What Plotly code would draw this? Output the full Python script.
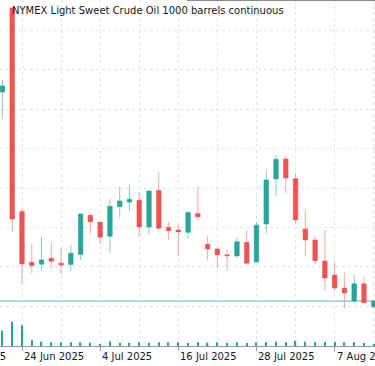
import datetime as dt
import plotly.graph_objects as go

dates = ["2025-06-20", "2025-06-23", "2025-06-24", "2025-06-25", "2025-06-26", "2025-06-27",
         "2025-06-30", "2025-07-01", "2025-07-02", "2025-07-03", "2025-07-04", "2025-07-07",
         "2025-07-08", "2025-07-09", "2025-07-10", "2025-07-11", "2025-07-14", "2025-07-15",
         "2025-07-16", "2025-07-17", "2025-07-18", "2025-07-21", "2025-07-22", "2025-07-23",
         "2025-07-24", "2025-07-25", "2025-07-28", "2025-07-29", "2025-07-30", "2025-07-31",
         "2025-08-01", "2025-08-04", "2025-08-05", "2025-08-06", "2025-08-07", "2025-08-08",
         "2025-08-11", "2025-08-12", "2025-08-13"]

open_ = [72.88, 77.15, 66.81, 64.24, 64.14, 64.44, 64.19, 64.12, 64.64, 66.62, 66.28, 65.56,
         67.06, 67.30, 67.39, 66.03, 67.89, 66.02, 65.88, 65.76, 66.71, 65.15, 64.91, 64.62,
         64.56, 65.25, 64.25, 66.18, 68.47, 69.48, 68.48, 65.93, 65.37, 64.30, 63.59, 62.93,
         62.27, 63.15, 61.98]
high = [73.49, 77.15, 66.99, 65.17, 65.57, 65.23, 64.96, 65.12, 66.72, 66.76, 66.28, 67.44,
        68.08, 68.11, 67.79, 67.86, 68.82, 66.28, 66.15, 66.83, 68.11, 65.57, 65.00, 64.91,
        65.52, 65.88, 66.28, 68.91, 69.69, 69.60, 68.74, 66.91, 65.54, 65.88, 64.24, 63.71,
        63.59, 63.51, 62.32]
low = [71.56, 65.78, 63.14, 63.68, 63.81, 63.93, 63.63, 63.80, 64.36, 65.68, 65.18, 64.70,
       66.49, 66.86, 65.57, 65.64, 65.91, 65.37, 64.56, 65.44, 66.35, 64.36, 63.95, 63.85,
       64.47, 64.19, 64.25, 65.68, 67.60, 67.74, 66.22, 64.57, 64.15, 62.78, 62.83, 61.90,
       62.16, 62.17, 61.90]
close = [73.19, 66.44, 64.15, 64.07, 64.36, 64.29, 64.10, 64.70, 66.69, 66.30, 65.51, 67.08,
         67.35, 67.44, 66.03, 67.86, 65.96, 65.84, 65.78, 66.76, 66.55, 64.91, 64.61, 64.57,
         65.28, 64.19, 66.12, 68.42, 69.47, 68.52, 66.39, 65.37, 64.32, 63.44, 62.93, 62.68,
         63.15, 62.19, 62.27]
volume = [153, 243, 210, 60, 43, 37, 37, 37, 37, 33, 20, 47, 33, 30, 37, 33, 37, 37, 37, 30,
          37, 33, 37, 30, 37, 30, 37, 37, 43, 37, 53, 43, 40, 43, 40, 37, 37, 30, 20]

title_text = "NYMEX Light Sweet Crude Oil 1000 barrels continuous"
label_idx = [2, 10, 18, 26, 34]
grid_idx = [6, 14, 22, 30, 38]
prev_label = "12 Jun 2025"

UP = "#26a69a"
DOWN = "#ef5350"
FONT = "DejaVu Sans"

W, H = 375, 366
PLOT_H = 346
x0_px, step_px = 2.46, 9.77

def fmt(d):
    d = dt.date.fromisoformat(d)
    return f"{d.day} {d.strftime('%b %Y')}"

idx = list(range(len(dates)))

fig = go.Figure()
fig.add_trace(go.Bar(x=idx, y=volume, width=0.13, marker_color=UP, marker_line_width=0,
                     yaxis="y2", showlegend=False, hoverinfo="skip"))
fig.add_trace(go.Candlestick(
    x=idx, open=open_, high=high, low=low, close=close,
    increasing=dict(fillcolor=UP, line=dict(color="rgba(38,166,154,0.55)", width=1)),
    decreasing=dict(fillcolor=DOWN, line=dict(color="rgba(239,83,80,0.5)", width=1)),
    whiskerwidth=0, showlegend=False, hoverinfo="skip"))

xr = [-x0_px / step_px, (W - x0_px) / step_px]

annotations = []
for i in label_idx:
    annotations.append(dict(x=i, xref="x", y=0, yref="paper", yanchor="top", xanchor="left",
                            text=fmt(dates[i]), showarrow=False, xshift=0, yshift=-3,
                            font=dict(family=FONT, size=10, color="#131722")))
annotations.append(dict(x=(x0_px - 6 * step_px) / W, xref="paper", y=0, yref="paper",
                        yanchor="top", xanchor="left", text=prev_label, showarrow=False,
                        yshift=-3, font=dict(family=FONT, size=10, color="#131722")))
annotations.append(dict(x=9.5 / W, xref="paper", y=(PLOT_H - 10.5) / PLOT_H, yref="paper",
                        xanchor="left", yanchor="middle", text=title_text, showarrow=False,
                        font=dict(family=FONT, size=10, color="#131722")))

fig.update_layout(
    width=W, height=H,
    margin=dict(l=0, r=0, t=0, b=H - PLOT_H, pad=0),
    paper_bgcolor="white", plot_bgcolor="white",
    showlegend=False, boxgap=0.33,
    xaxis=dict(range=xr, tickmode="array", tickvals=label_idx, ticktext=[""] * len(label_idx),
               showticklabels=False, ticks="outside", ticklen=4, tickcolor="#9598a1",
               showgrid=True, gridcolor="#e0e3eb", griddash="dot", gridwidth=1,
               showline=True, linecolor="#9598a1", linewidth=1, zeroline=False,
               rangeslider=dict(visible=False),
               minor=dict(tickmode="array", tickvals=grid_idx, showgrid=True,
                          gridcolor="#e0e3eb", griddash="dot", ticklen=0)),
    yaxis=dict(range=[59.99, 77.55], dtick=2, tick0=0, showticklabels=False,
               showgrid=True, gridcolor="#e0e3eb", griddash="dot", zeroline=False),
    yaxis2=dict(range=[0, PLOT_H * 10], overlaying="y", visible=False),
    annotations=annotations,
    shapes=[
        dict(type="line", xref="paper", yref="y", x0=0, x1=1, y0=close[-1], y1=close[-1],
             line=dict(color="rgba(38,166,154,0.38)", width=2), layer="below"),
        dict(type="line", xref="paper", yref="paper", x0=187 / W, x1=1,
             y0=(PLOT_H - 0.5) / PLOT_H, y1=(PLOT_H - 0.5) / PLOT_H,
             line=dict(color="#8a8a8a", width=1)),
    ],
)

fig.write_html("out.html", config={"displayModeBar": False},
               post_script="document.body.style.margin='0';document.body.style.overflow='hidden';")
